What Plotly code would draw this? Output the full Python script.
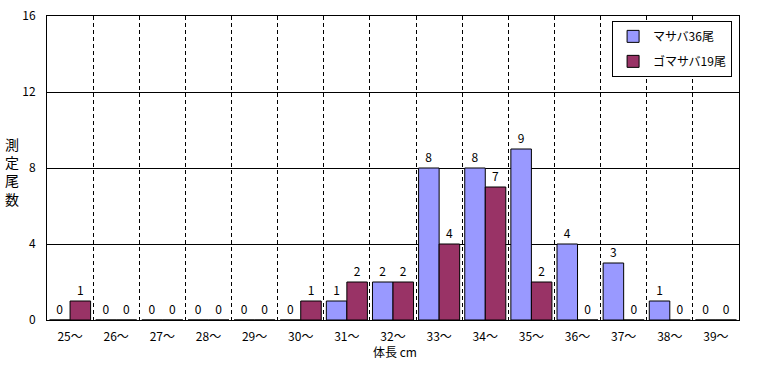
import plotly.graph_objects as go

categories = ["25～", "26～", "27～", "28～", "29～", "30～", "31～", "32～",
              "33～", "34～", "35～", "36～", "37～", "38～", "39～"]
masaba = [0, 0, 0, 0, 0, 0, 1, 2, 8, 8, 9, 4, 3, 1, 0]
gomasaba = [1, 0, 0, 0, 0, 1, 2, 2, 4, 7, 2, 0, 0, 0, 0]
series_names = ["マサバ36尾", "ゴマサバ19尾"]
colors = ["#9999FF", "#993366"]
y_ticks = [0, 4, 8, 12, 16]

FONT = "Noto Sans CJK JP, DejaVu Sans, sans-serif"

fig = go.Figure()
for i, (name, vals, col) in enumerate(zip(series_names, [masaba, gomasaba], colors)):
    fig.add_trace(go.Bar(
        x=categories, y=vals, name=name,
        marker=dict(color=col, line=dict(color="black", width=1)),
        text=[str(v) for v in vals], textposition="outside",
        textfont=dict(family=FONT, size=12, color="black"),
        cliponaxis=False, legendgroup=f"g{i}",
    ))

fig.update_layout(
    width=760, height=365,
    margin=dict(l=47, r=21, t=16, b=45, autoexpand=False),
    paper_bgcolor="white", plot_bgcolor="white",
    barmode="group", bargap=0.11, bargroupgap=0,
    font=dict(family=FONT, size=12, color="black"),
    showlegend=True,
    legend=dict(
        x=0.99, y=0.984, xanchor="right", yanchor="top",
        bordercolor="black", borderwidth=1, bgcolor="white",
        font=dict(family=FONT, size=12, color="black"),
        tracegroupgap=6, itemwidth=30,
    ),
    xaxis=dict(
        type="category", tickson="boundaries", automargin=False,
        showgrid=True, gridcolor="black", griddash="4px,3px", gridwidth=1,
        showline=True, linecolor="black", linewidth=1, mirror=True,
        ticks="", ticklabelstandoff=6,
        tickfont=dict(family=FONT, size=12, color="black"),
    ),
    yaxis=dict(
        range=[0, 16], tickvals=y_ticks, automargin=False,
        showgrid=True, gridcolor="black", gridwidth=1,
        showline=True, linecolor="black", linewidth=1, mirror=True,
        zeroline=False, ticks="", ticklabelstandoff=8,
        tickfont=dict(family=FONT, size=12, color="black"),
    ),
    annotations=[
        dict(text="測<br>定<br>尾<br>数", xref="paper", yref="paper",
             x=-0.0506, y=0.49, xanchor="center", yanchor="middle",
             showarrow=False, font=dict(family=FONT, size=14, color="black")),
        dict(text="体長 cm", xref="paper", yref="paper",
             x=0.503, y=-0.105, xanchor="center", yanchor="middle",
             showarrow=False, font=dict(family=FONT, size=12, color="black")),
    ],
)

fig.write_html(
    "out.html",
    config={"displayModeBar": False},
    post_script="document.body.style.margin='0';document.body.style.overflow='hidden';",
)
